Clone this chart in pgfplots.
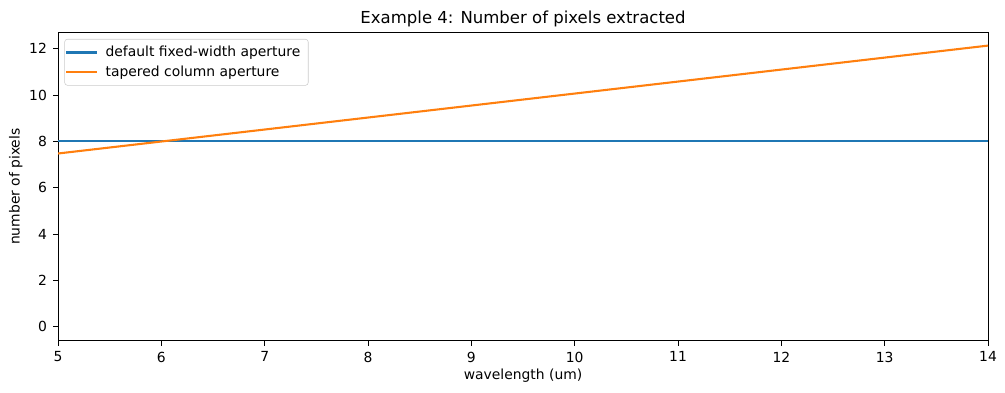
\documentclass[border=0pt]{standalone}
\usepackage{fontspec}
\setmainfont{DejaVu Sans}
\usepackage{pgfplots}
\pgfplotsset{compat=1.18}
\definecolor{tabblue}{HTML}{1F77B4}
\definecolor{taborange}{HTML}{FF7F0E}
\begin{document}
\begin{tikzpicture}
\begin{axis}[
  scale only axis,
  width=669.6pt, height=221.8pt,
  xmin=5, xmax=14, ymin=-0.605, ymax=12.7,
  xtick={5,6,...,14}, ytick={0,2,...,12},
  tick align=outside, tick pos=left,
  major tick length=3.5pt,
  every tick/.style={black, line width=0.6pt},
  axis line style={line width=0.6pt},
  /pgf/number format/assume math mode=true,
  tick label style={font=\fontsize{10}{12}\selectfont},
  xticklabel style={yshift=-1pt},
  yticklabel style={xshift=-1pt},
  title={Example 4: Number of pixels extracted},
  title style={font=\fontsize{11.9}{14}\selectfont, yshift=-5.6pt},
  xlabel={wavelength (um)},
  ylabel={number of pixels},
  label style={font=\fontsize{10}{12}\selectfont},
  xlabel style={yshift=2pt},
  ylabel style={yshift=-2pt},
  legend cell align=left,
  legend style={at={(0.0068,0.9795)}, anchor=north west,
    draw=black!20, fill=white, fill opacity=0.8, text opacity=1,
    rounded corners=2pt, font=\fontsize{10}{12}\selectfont,
    inner xsep=0.4pt, inner ysep=3pt, row sep=1pt},
  legend image code/.code={\draw[#1] (0pt,0pt) -- (22pt,0pt); \path (25.6pt,0pt);},
]
\addplot[tabblue, line width=1.5pt] coordinates {(5,8) (14,8)};
\addlegendentry{default fixed-width aperture\hspace*{3.3pt}}
\addplot[taborange, line width=1.5pt] coordinates {(5,7.48) (14,12.14)};
\addlegendentry{tapered column aperture}
\coordinate (sw) at (rel axis cs:0,0);
\coordinate (ne) at (rel axis cs:1,1);
\end{axis}
\pgfresetboundingbox
\path[use as bounding box] ([shift={(-41.8pt,-37.4pt)}]sw) rectangle ([shift={(12.2pt,23.5pt)}]ne);
\end{tikzpicture}
\end{document}
